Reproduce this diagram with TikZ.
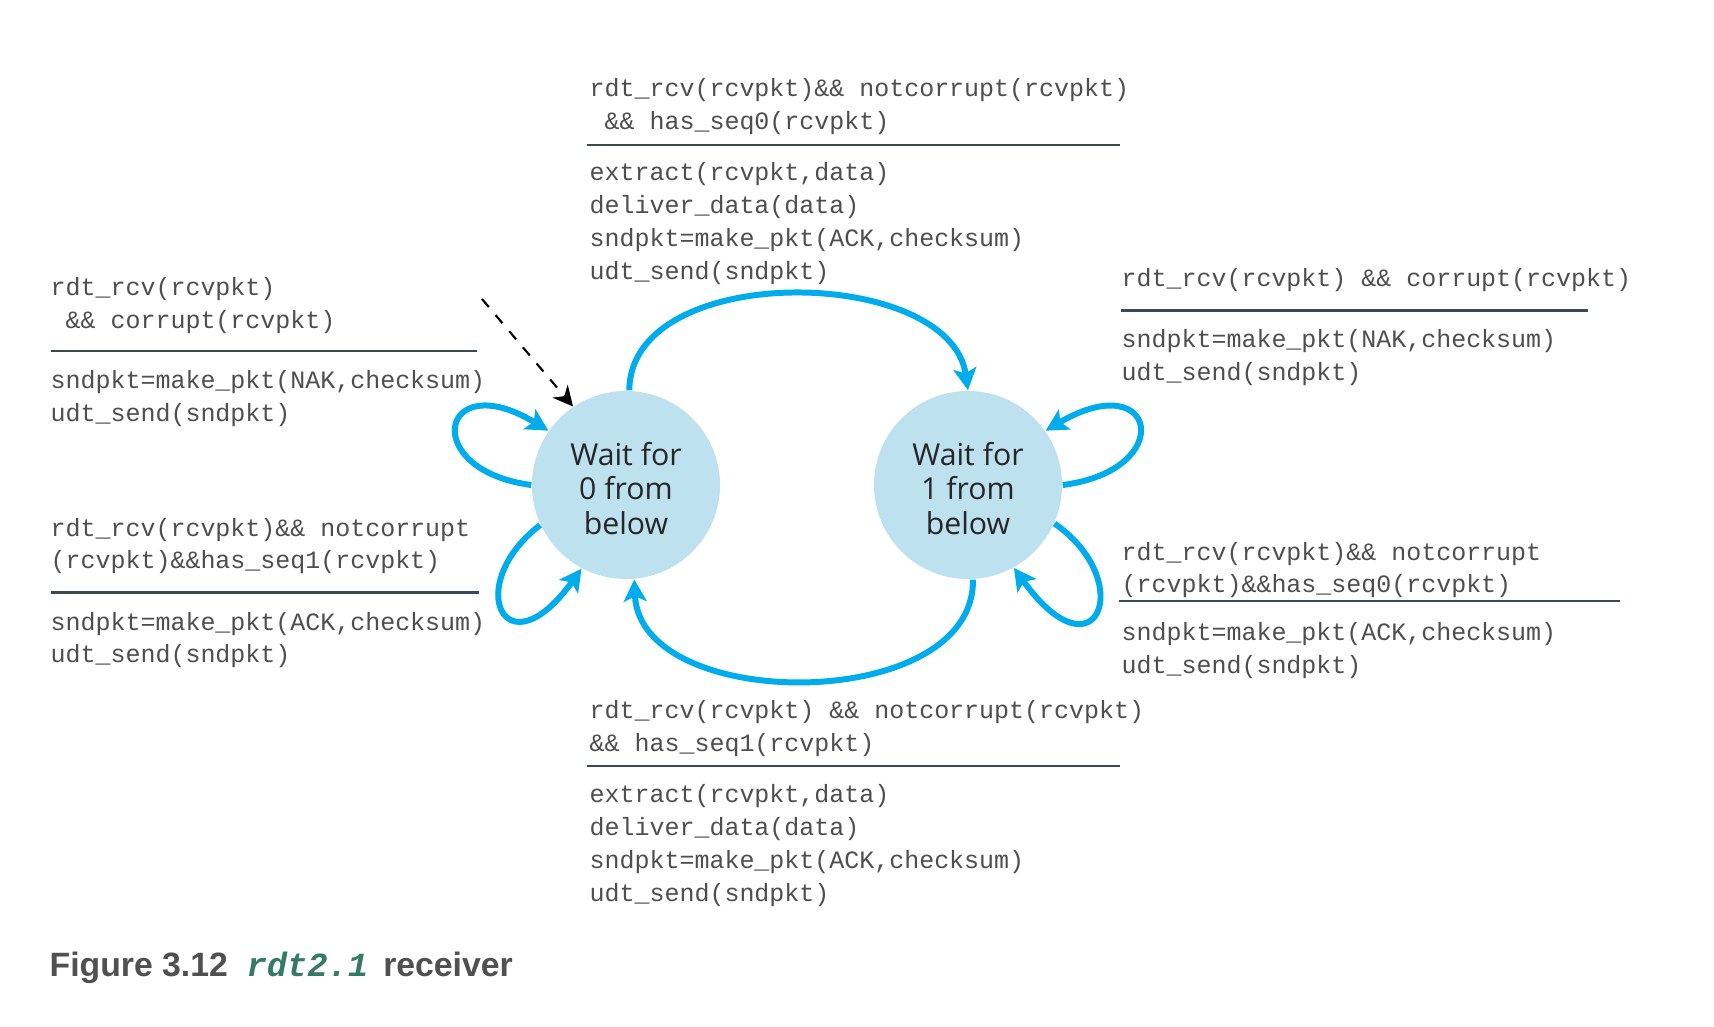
\documentclass[tikz,border=0pt]{standalone}
\usepackage{fontspec}
\setmainfont{Liberation Sans}
\setsansfont{Open Sans}
\setmonofont{Liberation Mono}
\usetikzlibrary{arrows.meta}

\definecolor{arccyan}{RGB}{0,172,236}
\definecolor{statefill}{RGB}{190,225,240}
\definecolor{codegray}{RGB}{78,78,78}
\definecolor{rulegray}{RGB}{60,72,88}
\definecolor{figgray}{RGB}{80,80,80}
\definecolor{figgreen}{RGB}{52,122,100}

\begin{document}
\begin{tikzpicture}[x=0.01cm, y=-0.01cm,
    state/.style={circle, fill=statefill, minimum size=1.88cm, inner sep=0pt},
    statelabel/.style={align=center, yshift=-1pt, inner sep=0pt, text=black!85,
        font=\sffamily\fontsize{8.6}{9.8}\selectfont},
    trans/.style={draw=arccyan, line width=1.7pt, -{Stealth[length=2.2mm,width=2.3mm,inset=0.5mm]}},
    fsmtext/.style={anchor=base west, inner sep=0pt, align=left, text=codegray,
        font=\ttfamily\fontsize{7.1}{9.33}\selectfont},
    guardline/.style={draw=rulegray, line width=0.7pt}]
    \useasboundingbox (0,0) rectangle (1714,1026);

    % states
    \node[state, label={[statelabel]center:{Wait for\\0 from\\below}}] (w0) at (626,485) {};
    \node[state, label={[statelabel]center:{Wait for\\1 from\\below}}] (w1) at (968,485) {};

    % transitions
    \draw[trans] (w0.88) .. controls (630,260) and (950,265) .. (w1.north);
    \draw[trans] (w1.273) .. controls (975,714) and (640,714) .. (w0.275);
    \draw[trans] (w0.west) .. controls (418,470) and (440,365) .. (w0.145);
    \draw[trans] (w0.205) .. controls (462,585) and (505,675) .. (w0.242);
    \draw[trans] (w1.east) .. controls (1178,470) and (1157,365) .. (w1.35);
    \draw[trans] (w1.336) .. controls (1138,582) and (1096,682) .. (w1.299);

    % initial state
    \coordinate (init) at (482,299);
    \draw[dashed, line width=0.6pt, -{Stealth[length=2mm,width=2mm]}] (init) -- (w0.124);

    % 0 -> 1 (nodes sit on the baseline of their last line)
    \node[fsmtext] (t01g) at (589,129.3) {rdt\_rcv(rcvpkt)\&\& notcorrupt(rcvpkt)\\~\&\& has\_seq0(rcvpkt)};
    \draw[guardline] (587,145) -- (1120,145);
    \node[fsmtext] (t01a) at (589,279) {extract(rcvpkt,data)\\deliver\_data(data)\\sndpkt=make\_pkt(ACK,checksum)\\udt\_send(sndpkt)};

    % 1 -> 0
    \node[fsmtext] (t10g) at (589,751.3) {rdt\_rcv(rcvpkt) \&\& notcorrupt(rcvpkt)\\\&\& has\_seq1(rcvpkt)};
    \draw[guardline] (587,766) -- (1120,766);
    \node[fsmtext] (t10a) at (589,901) {extract(rcvpkt,data)\\deliver\_data(data)\\sndpkt=make\_pkt(ACK,checksum)\\udt\_send(sndpkt)};

    % 0 -> 0, corrupt
    \node[fsmtext] (t00c) at (50,328.3) {rdt\_rcv(rcvpkt)\\~\&\& corrupt(rcvpkt)};
    \draw[guardline] (51,351) -- (477,351);
    \node[fsmtext] (t00ca) at (50,421.2) {sndpkt=make\_pkt(NAK,checksum)\\udt\_send(sndpkt)};

    % 0 -> 0, seq1
    \node[fsmtext] (t00s) at (50,568.8) {rdt\_rcv(rcvpkt)\&\& notcorrupt\\(rcvpkt)\&\&has\_seq1(rcvpkt)};
    \draw[guardline] (51,592.5) -- (479,592.5);
    \node[fsmtext] (t00sa) at (50,662.8) {sndpkt=make\_pkt(ACK,checksum)\\udt\_send(sndpkt)};

    % 1 -> 1, corrupt
    \node[fsmtext] (t11c) at (1121,286.7) {rdt\_rcv(rcvpkt) \&\& corrupt(rcvpkt)};
    \draw[guardline] (1121,310.4) -- (1588,310.4);
    \node[fsmtext] (t11ca) at (1121,380.7) {sndpkt=make\_pkt(NAK,checksum)\\udt\_send(sndpkt)};

    % 1 -> 1, seq0
    \node[fsmtext] (t11s) at (1121,592.8) {rdt\_rcv(rcvpkt)\&\& notcorrupt\\(rcvpkt)\&\&has\_seq0(rcvpkt)};
    \draw[guardline] (1119,601.2) -- (1620,601.2);
    \node[fsmtext] (t11sa) at (1121,673.7) {sndpkt=make\_pkt(ACK,checksum)\\udt\_send(sndpkt)};

    % caption
    \node[anchor=base west, inner sep=0pt, text=figgray, font=\bfseries\fontsize{9.6}{11}\selectfont] (caption) at (49,976)
        {Figure 3.12\hspace{0.55em}\textcolor{figgreen}{\ttfamily\itshape rdt2.1}\hspace{0.45em}receiver};
\end{tikzpicture}
\end{document}
